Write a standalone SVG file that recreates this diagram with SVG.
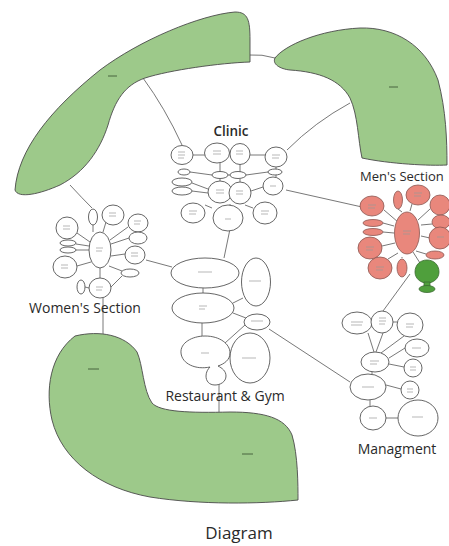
<svg xmlns="http://www.w3.org/2000/svg" width="449" height="546" viewBox="0 0 449 546">
<style>
.g{fill:#9dc98a;stroke:#4a4a4a;stroke-width:0.9}
.b{fill:#fff;stroke:#555;stroke-width:0.9}
.m{fill:#e9877c;stroke:#8a5550;stroke-width:0.8}
.dg{fill:#4f9f3c;stroke:#3a6a30;stroke-width:0.8}
.c{fill:none;stroke:#555;stroke-width:0.8}
.t{fill:none;stroke:#999;stroke-width:0.7}
.tg{fill:none;stroke:#3f5a35;stroke-width:0.9}
.lbl{font-family:"Open Sans","DejaVu Sans",sans-serif;font-size:14px;fill:#2a2a2a;text-anchor:middle}
</style>
<rect width="449" height="546" fill="#fff"/>

<g id="connectors">
<path class="c" d="M249,55 Q262,54 275,58"/>
<path class="c" d="M143,78 Q165,108 182,145"/>
<path class="c" d="M350,103 Q315,122 287,150"/>
<path class="c" d="M70,185 Q82,198 92,208"/>
<path class="c" d="M286,190 L362,207"/>
<path class="c" d="M230,229 L224,258"/>
<path class="c" d="M146,260 L172,267"/>
<path class="c" d="M410,274 L383,311"/>
<path class="c" d="M269,329 L350,382"/>
<path class="c" d="M103,298 L103,334"/>
<path class="c" d="M219,383 L219,412"/>
</g>

<g id="park-north-west">
<path class="g" d="M15,190 C18,150 50,110 100,70 C140,40 200,15 235,12 C248,12 250,20 250,40 L250,62 C220,63 170,70 145,78 C125,85 115,100 108,125 C100,150 85,172 60,185 C40,194 18,199 15,190 Z"/>
<path class="tg" d="M108,76 h9"/>
</g>
<g id="park-north-east">
<path class="g" d="M275,58 C285,45 320,30 360,28 C395,27 425,45 438,80 C446,110 447,140 447,165 C430,166 390,164 362,158 C358,140 358,115 350,98 C340,80 320,72 290,70 C280,69 272,64 275,58 Z"/>
<path class="tg" d="M389,87 h9"/>
</g>
<g id="park-south">
<path class="g" d="M75,336 C100,330 125,335 137,352 C143,365 143,390 152,403 C160,412 190,413 230,412 C265,412 285,418 292,435 C298,455 298,485 298,500 C260,504 200,505 150,497 C100,488 62,460 52,420 C45,390 50,355 75,336 Z"/>
<path class="tg" d="M88,369 h11 M242,454 h11"/>
</g>

<g id="clinic">
<path class="c" d="M193,155 H205 M250,155 H265 M220,163 V172 M240,164 V172 M190,172 L212,175 M228,175 H230 M246,175 L268,172 M192,183 L208,189 M192,191 L208,193 M251,191 L263,187 M220,181 V179 M240,182 V179 M205,205 L212,208 M245,205 L253,208 M230,204 V205 M276,167 V177"/>
<ellipse class="b" cx="182" cy="155" rx="11" ry="9.5"/>
<ellipse class="b" cx="217" cy="153" rx="12.5" ry="10"/>
<ellipse class="b" cx="240" cy="154" rx="10" ry="10.5"/>
<ellipse class="b" cx="276" cy="157" rx="11" ry="10"/>
<ellipse class="b" cx="184" cy="172" rx="6" ry="3"/>
<ellipse class="b" cx="220" cy="175" rx="8" ry="3.5"/>
<ellipse class="b" cx="238" cy="175" rx="8" ry="3.5"/>
<ellipse class="b" cx="275" cy="172" rx="7" ry="3"/>
<ellipse class="b" cx="182" cy="182" rx="10" ry="4"/>
<ellipse class="b" cx="182" cy="191" rx="10" ry="4"/>
<ellipse class="b" cx="220" cy="192" rx="12" ry="11"/>
<ellipse class="b" cx="240" cy="193" rx="11" ry="11"/>
<ellipse class="b" cx="273" cy="186" rx="10" ry="9"/>
<ellipse class="b" cx="193" cy="213" rx="12" ry="10"/>
<ellipse class="b" cx="228" cy="218" rx="15" ry="13"/>
<ellipse class="b" cx="265" cy="213" rx="12" ry="11"/>
<path class="t" d="M178,152 h7 M178,155 h7 M178,158 h6 M213,151 h8 M213,154 h8 M236,151 h7 M236,154 h7 M272,155 h8 M272,158 h7 M216,190 h8 M216,193 h8 M236,191 h7 M236,194 h7 M270,186 h6 M189,211 h8 M189,214 h7 M225,219 h6 M261,211 h8 M261,214 h7"/>
<text class="lbl" x="231" y="136" style="font-size:13.5px;font-weight:600">Clinic</text>
</g>

<g id="mens-section">
<path class="c" d="M384,210 L398,222 M398,209 L402,212 M412,204 L410,211 M430,209 L418,220 M383,223 L394,226 M383,232 L394,233 M421,225 L432,224 M421,236 L430,238 M382,246 L395,243 M416,251 L426,254 M388,259 L398,253 M402,258 V257 M413,252 L420,263"/>
<ellipse class="m" cx="372" cy="206" rx="12" ry="10"/>
<ellipse class="m" cx="398" cy="200" rx="4.5" ry="9"/>
<ellipse class="m" cx="418" cy="195" rx="12" ry="10"/>
<ellipse class="m" cx="440" cy="205" rx="10" ry="10"/>
<ellipse class="m" cx="373" cy="223" rx="10" ry="3.5"/>
<ellipse class="m" cx="373" cy="232" rx="10" ry="3.5"/>
<ellipse class="m" cx="407" cy="233" rx="12.5" ry="21"/>
<ellipse class="m" cx="441" cy="222" rx="9" ry="7"/>
<ellipse class="m" cx="440" cy="238" rx="11" ry="11"/>
<ellipse class="m" cx="370" cy="248" rx="12" ry="11"/>
<ellipse class="m" cx="435" cy="255" rx="9" ry="4"/>
<ellipse class="m" cx="380" cy="268" rx="12" ry="11"/>
<ellipse class="m" cx="402" cy="268" rx="5" ry="9"/>
<path class="dg" d="M427,283 C420,283 415,278 415,272 C415,265 420,260 427,260 C434,260 439,265 439,272 C439,278 434,283 427,283 Z"/>
<path class="dg" d="M424,282 L424,287 L430,287 L430,282 Z"/>
<ellipse class="dg" cx="427" cy="289" rx="8" ry="3.5"/>
<path class="t" d="M368,205 h8 M368,208 h7 M414,193 h8 M414,196 h7 M403,231 h8 M403,234 h7 M366,247 h8 M366,250 h7 M376,267 h8 M376,270 h7 M437,237 h7"/>
<text class="lbl" x="360" y="181" style="text-anchor:start;font-size:13px">Men's Section</text>
</g>

<g id="womens-section">
<path class="c" d="M93,225 V232 M106,222 L103,232 M77,233 L90,242 M128,227 L110,240 M76,244 L89,246 M76,250 L89,250 M129,238 L111,244 M125,254 L111,256 M77,266 L91,262 M122,271 L109,266 M100,268 V278 M85,287 L89,288 M111,287 L122,276"/>
<ellipse class="b" cx="93" cy="217" rx="4.5" ry="8"/>
<ellipse class="b" cx="113" cy="215" rx="11" ry="10"/>
<ellipse class="b" cx="67" cy="228" rx="11" ry="11"/>
<ellipse class="b" cx="138" cy="223" rx="10" ry="9"/>
<ellipse class="b" cx="68" cy="243" rx="8" ry="3"/>
<ellipse class="b" cx="68" cy="250" rx="8" ry="3"/>
<ellipse class="b" cx="100" cy="250" rx="11" ry="18"/>
<ellipse class="b" cx="138" cy="238" rx="9" ry="6"/>
<ellipse class="b" cx="135" cy="255" rx="10" ry="9"/>
<ellipse class="b" cx="65" cy="267" rx="12" ry="11"/>
<ellipse class="b" cx="130" cy="273" rx="9" ry="4"/>
<ellipse class="b" cx="81" cy="287" rx="4" ry="7"/>
<ellipse class="b" cx="100" cy="288" rx="11" ry="10"/>
<path class="t" d="M109,213 h7 M109,216 h7 M63,226 h7 M63,229 h7 M134,221 h7 M134,224 h6 M96,248 h7 M96,251 h6 M131,253 h7 M131,256 h7 M61,265 h7 M61,268 h7 M96,287 h7 M96,290 h6"/>
<text class="lbl" x="85" y="313">Women's Section</text>
</g>

<g id="restaurant-gym">
<path class="c" d="M203,288 V293 M202,323 V338 M233,303 L243,298 M233,313 L246,318 M225,343 L245,325 M229,353 L230,353"/>
<ellipse class="b" cx="205" cy="273" rx="34" ry="15"/>
<ellipse class="b" cx="256" cy="282" rx="14.5" ry="24"/>
<ellipse class="b" cx="203" cy="308" rx="31" ry="15"/>
<ellipse class="b" cx="257" cy="322" rx="13" ry="8"/>
<path class="b" d="M210,367 C196,370 182,364 181,353 C180,343 192,336 205,336 C220,336 230,344 230,353 C230,360 224,364 218,366 C222,368 226,371 226,376 C226,382 220,385 215,385 C209,385 206,381 206,376 C206,372 208,369 210,367 Z"/>
<ellipse class="b" cx="250" cy="358" rx="20" ry="25"/>
<path class="t" d="M198,272 h14 M199,306 h8 M199,309 h6 M249,281 h12 M251,321 h12 M201,353 h8 M242,358 h14"/>
<text class="lbl" x="225" y="401">Restaurant &amp; Gym</text>
</g>

<g id="managment">
<path class="c" d="M372,324 V324 M393,322 H397 M368,333 L374,352 M383,333 L376,352 M404,336 L381,353 M405,348 L389,358 M389,364 L404,367 M372,372 V374 M386,385 L401,389 M370,400 V406 M381,418 H398"/>
<ellipse class="b" cx="357" cy="323" rx="15" ry="11"/>
<ellipse class="b" cx="382" cy="322" rx="11" ry="11"/>
<ellipse class="b" cx="410" cy="325" rx="13" ry="12"/>
<ellipse class="b" cx="417" cy="348" rx="12" ry="9"/>
<ellipse class="b" cx="375" cy="362" rx="14" ry="10"/>
<ellipse class="b" cx="413" cy="368" rx="9" ry="9"/>
<ellipse class="b" cx="368" cy="387" rx="18" ry="13"/>
<ellipse class="b" cx="410" cy="390" rx="9" ry="9"/>
<ellipse class="b" cx="373" cy="418" rx="13" ry="12"/>
<ellipse class="b" cx="418" cy="418" rx="20" ry="18"/>
<path class="t" d="M351,322 h12 M351,325 h11 M379,318 h7 M379,321 h7 M379,324 h6 M406,324 h8 M406,327 h7 M412,348 h9 M370,361 h9 M370,364 h7 M410,367 h6 M410,370 h6 M362,387 h12 M407,389 h6 M407,392 h6 M369,418 h8 M412,417 h11"/>
<text class="lbl" x="397" y="454">Managment</text>
</g>

<text class="lbl" x="239" y="539" style="font-size:17px">Diagram</text>
</svg>
